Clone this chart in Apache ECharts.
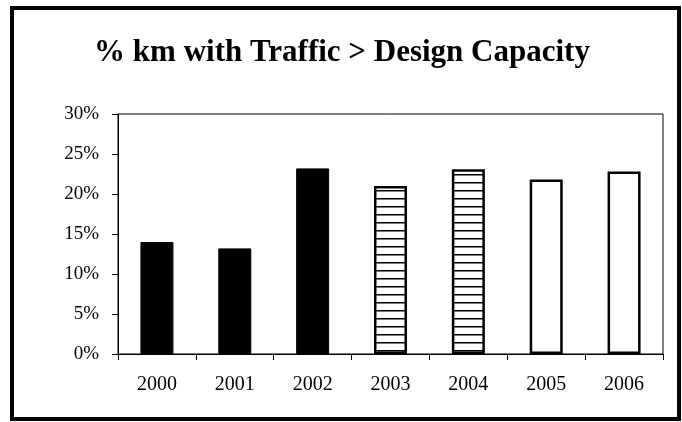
<!DOCTYPE html>
<html>
<head>
<meta charset="utf-8">
<script src="https://cdn.jsdelivr.net/npm/echarts@6/dist/echarts.min.js"></script>
<style>html,body{margin:0;padding:0;background:#fff}#c{width:682px;height:422px}</style>
</head>
<body>
<div id="c"></div>
<script>
var titleText = '% km with Traffic > Design Capacity';
var years = ['2000', '2001', '2002', '2003', '2004', '2005', '2006'];
var shares = [14.0, 13.2, 23.2, 21.0, 23.1, 21.8, 22.8];
var yTicks = [0, 5, 10, 15, 20, 25, 30];

function hatchPattern() {
  var cv = document.createElement('canvas');
  cv.width = 8; cv.height = 8;
  var ctx = cv.getContext('2d');
  ctx.fillStyle = '#fff';
  ctx.fillRect(0, 0, 8, 8);
  ctx.fillStyle = '#000';
  ctx.fillRect(0, 6, 8, 1.5);
  return cv;
}
var hatch = { image: hatchPattern(), repeat: 'repeat' };

function styleFor(i) {
  if (i < 3) return { color: '#000', borderColor: '#000', borderWidth: 1 };
  if (i < 5) return { color: hatch, borderColor: '#000', borderWidth: 2.5 };
  return { color: '#fff', borderColor: '#000', borderWidth: 2.5 };
}

var chart = echarts.init(document.getElementById('c'), null, { renderer: 'canvas' });
var SERIF = '"Liberation Serif", "Times New Roman", serif';
chart.setOption({
  animation: false,
  backgroundColor: '#fff',
  title: {
    text: titleText,
    left: 337, textAlign: 'center', top: 32,
    textStyle: { fontFamily: SERIF, fontWeight: 'bold', fontSize: 31, color: '#000' }
  },
  grid: {
    left: 118, right: 19, top: 114, bottom: 68,
    show: true, borderColor: '#000', borderWidth: 1
  },
  xAxis: {
    type: 'category',
    data: years,
    axisLine: { lineStyle: { color: '#000', width: 1 } },
    axisTick: { show: true, length: 6, lineStyle: { color: '#000' } },
    axisLabel: { fontFamily: SERIF, fontSize: 20, color: '#000', margin: 21 }
  },
  yAxis: {
    type: 'value',
    min: yTicks[0], max: yTicks[yTicks.length - 1], interval: yTicks[1] - yTicks[0],
    axisLine: { show: true, lineStyle: { color: '#000', width: 1 } },
    axisTick: { show: true, length: 6, lineStyle: { color: '#000' } },
    splitLine: { show: false },
    axisLabel: { fontFamily: SERIF, fontSize: 19, color: '#000', margin: 19, formatter: '{value}%' }
  },
  series: [{
    type: 'bar',
    barWidth: 33,
    data: shares.map(function (v, i) { return { value: v, itemStyle: styleFor(i) }; })
  }],
  graphic: [{
    type: 'rect',
    shape: { x: 12, y: 8, width: 667, height: 411 },
    style: { fill: null, stroke: '#000', lineWidth: 4 },
    silent: true
  }]
});
</script>
</body>
</html>
